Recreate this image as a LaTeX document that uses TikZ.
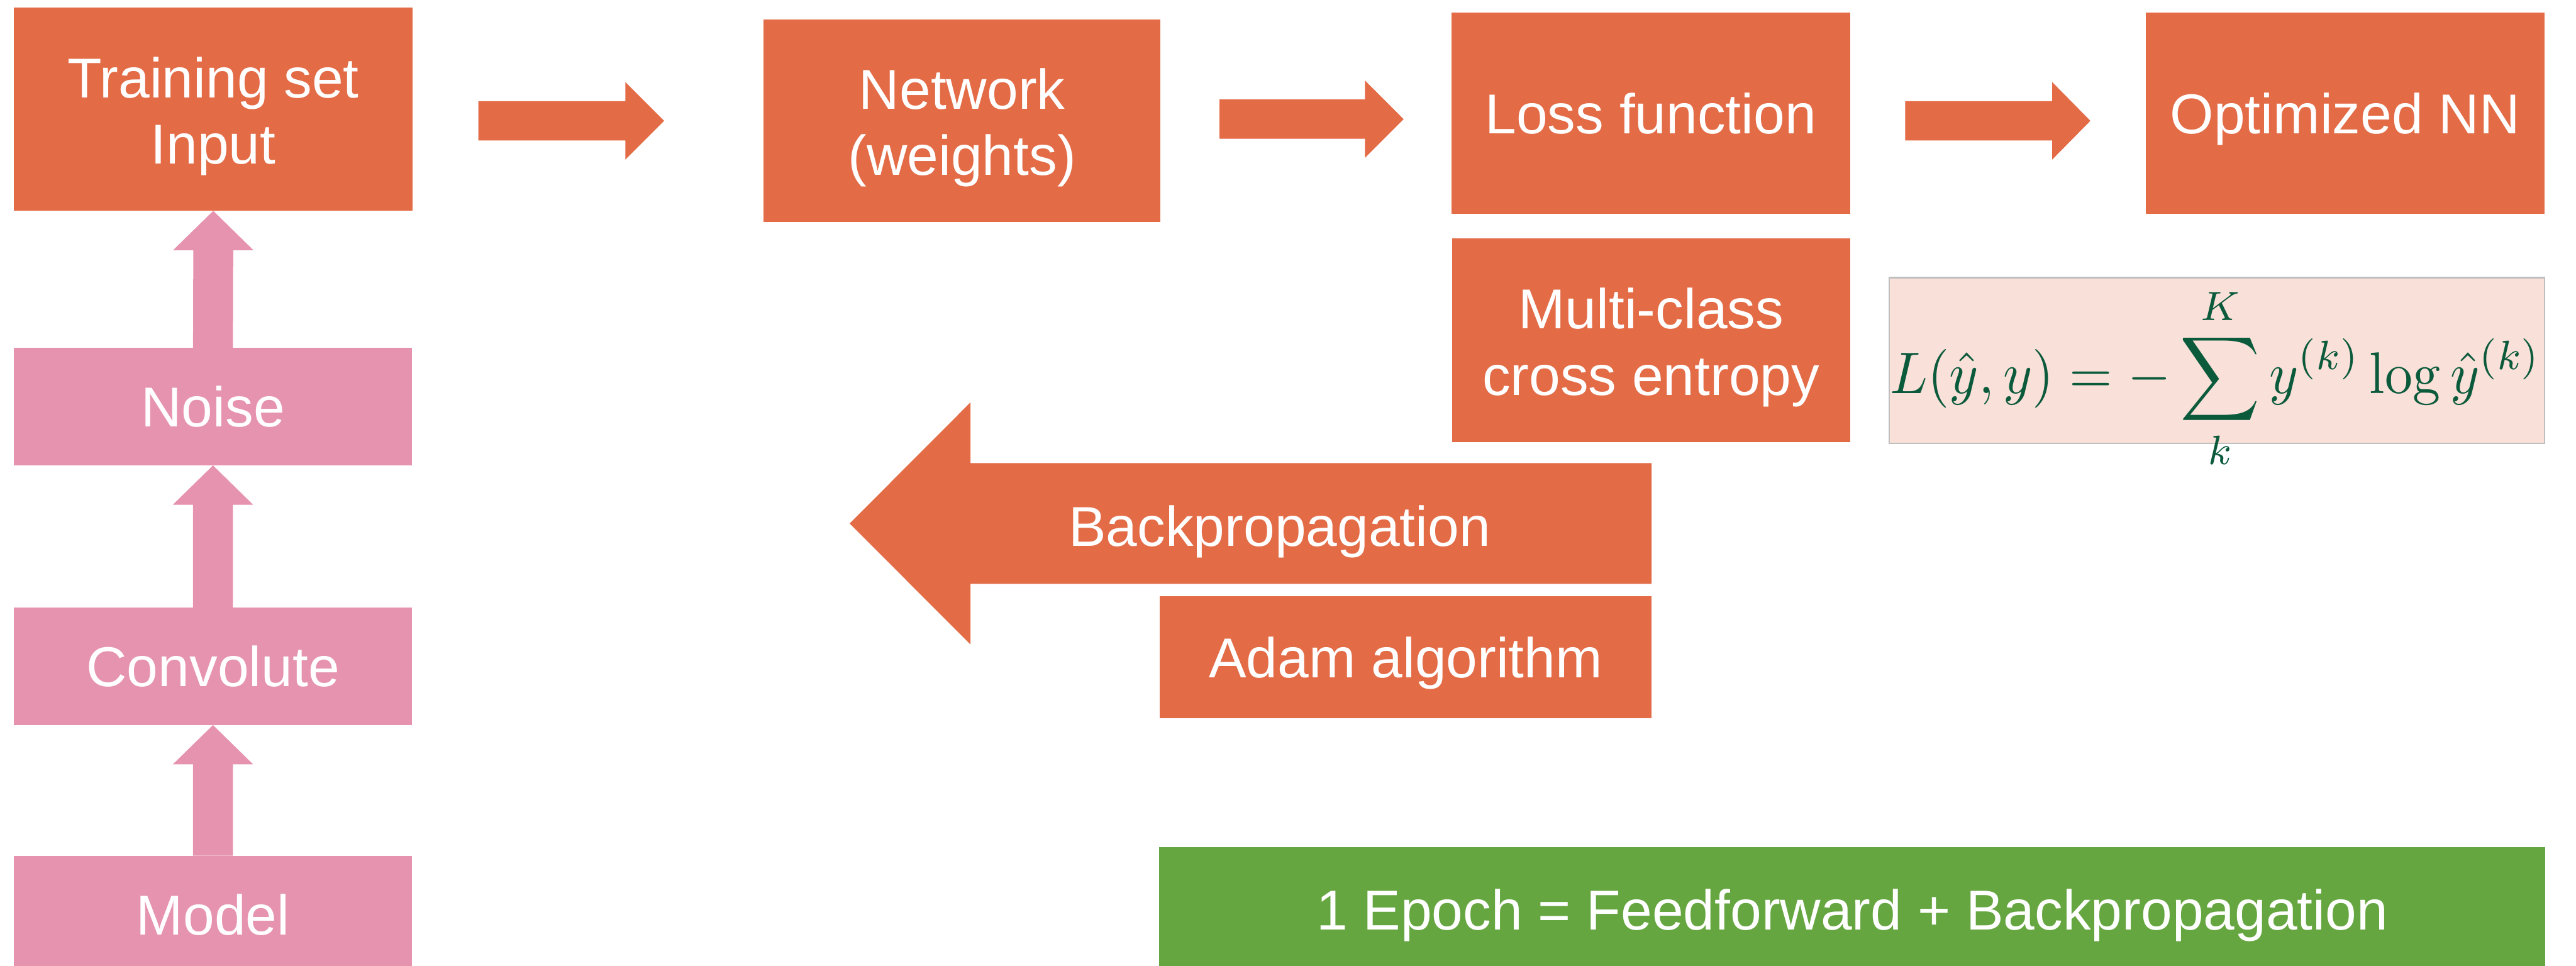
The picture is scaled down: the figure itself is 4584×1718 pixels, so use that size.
\documentclass[tikz,border=0pt]{standalone}
\usepackage[no-math]{fontspec}
\setmainfont{Liberation Sans}
\usepackage{amsmath}
\usepackage{graphicx}
\usetikzlibrary{calc}
\definecolor{orangec}{HTML}{E36B46}
\definecolor{pinkc}{HTML}{E693B0}
\definecolor{greenc}{HTML}{66A641}
\definecolor{formfill}{HTML}{F9E0D8}
\definecolor{formtext}{HTML}{0B5A3C}
\newcommand{\blockR}[6]{%
  \fill[#6] ($(#1)+(0,-#3)$) -- ($(#2)+({-1*(#5)},-#3)$) -- ($(#2)+({-1*(#5)},-#4)$) -- (#2)
    -- ($(#2)+({-1*(#5)},#4)$) -- ($(#2)+({-1*(#5)},#3)$) -- ($(#1)+(0,#3)$) -- cycle;}
\newcommand{\blockU}[6]{%
  \fill[#6] ($(#1)+(-#3,0)$) -- ($(#2)+(-#3,#5)$) -- ($(#2)+(-#4,#5)$) -- (#2)
    -- ($(#2)+(#4,#5)$) -- ($(#2)+(#3,#5)$) -- ($(#1)+(#3,0)$) -- cycle;}
\tikzset{
  box/.style={rectangle, inner sep=0pt, text=white, font=\fontsize{100}{118}\selectfont, align=center},
  obox/.style={box, fill=orangec},
  pbox/.style={box, fill=pinkc},
  gbox/.style={box, fill=greenc},
  oneline/.style={text height=72pt, text depth=0pt},
  twoline/.style={text height=#1, text depth=0pt},
}
\begin{document}
\begin{tikzpicture}[x=1pt,y=-1pt]
\useasboundingbox (0,0) rectangle (4584,1718);
% boxes
\node[obox, twoline=196pt, minimum width=709pt, minimum height=362pt] (train) at (379.5,194) {Training set\\Input};
\node[obox, twoline=194pt, minimum width=706pt, minimum height=360pt] (net) at (1712,215) {Network\\(weights)};
\node[obox, oneline, minimum width=709pt, minimum height=359pt] (loss) at (2937.5,201.5) {Loss function};
\node[obox, oneline, minimum width=710pt, minimum height=359pt] (opt) at (4173,201.5) {Optimized NN};
\node[obox, twoline=195pt, minimum width=708pt, minimum height=363pt] (multi) at (2938,605.5) {Multi-class\\cross entropy};
\node[rectangle, fill=formfill, draw=black!25, line width=3pt, minimum width=1166pt, minimum height=295pt] (fbox) at (3945,641.5) {};
\node[inner sep=0pt, text=formtext] (formula) at (3943,673)
  {\resizebox*{1158pt}{327pt}{$\displaystyle L(\hat{y},y)=-\sum_{k}^{K} y^{(k)}\log\hat{y}^{(k)}$}};
\node[pbox, oneline, minimum width=708pt, minimum height=209pt] (noise) at (379,723.5) {Noise};
\node[pbox, oneline, minimum width=708pt, minimum height=209pt] (conv) at (379,1185.5) {Convolute};
\node[pbox, oneline, minimum width=708pt, minimum height=210pt] (model) at (379,1628) {Model};
\node[obox, oneline, minimum width=875pt, minimum height=217pt] (adam) at (2501.5,1169.5) {Adam algorithm};
\node[gbox, oneline, minimum width=2466pt, minimum height=222pt] (epoch) at (3296,1619) {1 Epoch = Feedforward + Backpropagation};
% block arrows
\coordinate (a1s) at ($(train.east)+(117,21)$);
\coordinate (a1e) at ($(net.west)+(-177,0)$);
\blockR{a1s}{a1e}{35}{69}{69}{orangec}
\coordinate (a2s) at ($(net.east)+(105,-3)$);
\coordinate (a2e) at ($(loss.west)+(-85,10.5)$);
\blockR{a2s}{a2e}{35}{69}{69}{orangec}
\coordinate (a3s) at ($(loss.east)+(98,13.5)$);
\coordinate (a3e) at ($(opt.west)+(-98,13.5)$);
\blockR{a3s}{a3e}{35}{69}{68}{orangec}
\coordinate (bps) at (2939,931.5);
\coordinate (bpe) at (1512,931.5);
\blockR{bps}{bpe}{107.5}{215.5}{-215}{orangec}
\node[box, oneline] (bptext) at (2277,936) {Backpropagation};
\blockU{noise.north}{train.south}{35.5}{71.5}{70}{pinkc}
\blockU{conv.north}{noise.south}{35.5}{71.5}{70}{pinkc}
\blockU{model.north}{conv.south}{35.5}{71.5}{70}{pinkc}
\end{tikzpicture}
\end{document}
